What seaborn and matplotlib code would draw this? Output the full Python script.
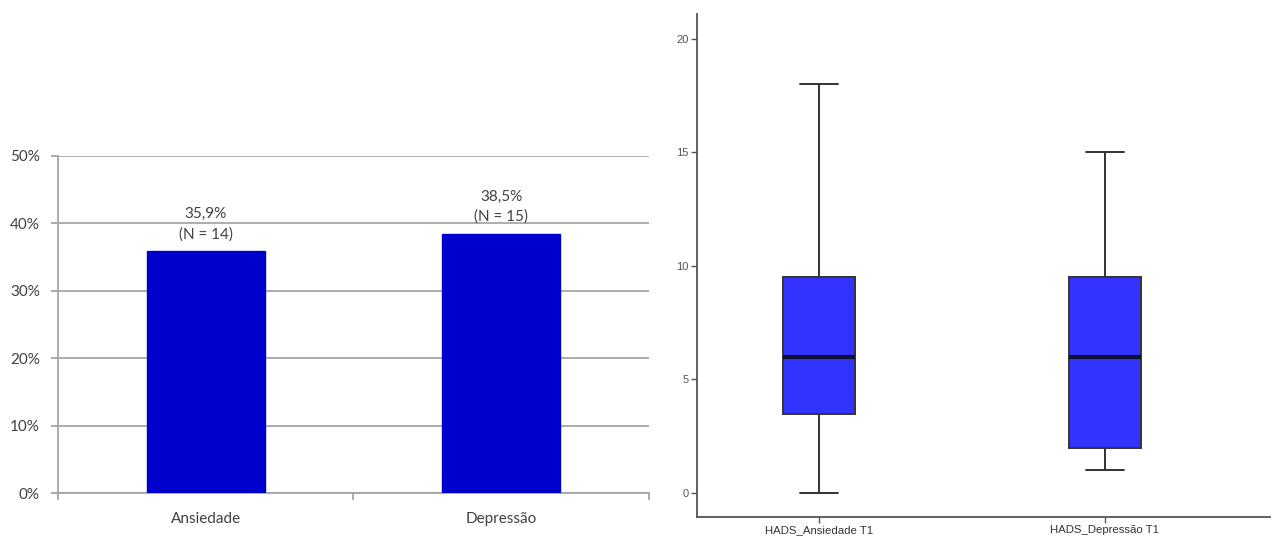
import numpy as np
import pandas as pd
import matplotlib
matplotlib.use("Agg")
import matplotlib.pyplot as plt
import seaborn as sns

# bar chart data (percent with clinical score)
categorias = ["Ansiedade", "Depressão"]
percentagens = [35.9, 38.5]
n_casos = [14, 15]
y_ticks_pct = [0, 10, 20, 30, 40, 50]

# boxplot data: five-number summaries
hads_labels = ["HADS_Ansiedade T1", "HADS_Depressão T1"]
hads_ansiedade = [0, 3.5, 6, 9.5, 18]
hads_depressao = [1, 2, 6, 9.5, 15]
y_ticks_hads = [0, 5, 10, 15, 20]

sns.set_style("white")
plt.rcParams["font.family"] = ["Lato", "DejaVu Sans"]

fig = plt.figure(figsize=(12.77, 5.39), dpi=100)

# left panel - bar chart
ax1 = fig.add_axes([0.0454, 0.0853, 0.4628, 0.6253])
df_bar = pd.DataFrame({"cat": categorias, "pct": percentagens})
sns.barplot(data=df_bar, x="cat", y="pct", color="#0000CC", width=0.4,
            saturation=1, ax=ax1, zorder=3)
for p in ax1.patches:
    p.set_edgecolor("#0000CC")
ax1.set_xlim(-0.5, 1.5)
ax1.set_ylim(0, 50)
ax1.set_yticks(y_ticks_pct)
ax1.set_yticklabels([f"{v}%" for v in y_ticks_pct], fontsize=11, color="#404040")
ax1.yaxis.grid(True, color="#A6A6A6", linewidth=1.3, zorder=0)
ax1.set_axisbelow(True)
ax1.tick_params(axis="y", length=5, width=1.3, color="#A6A6A6", pad=8, left=True)
ax1.set_xticks([0, 1])
ax1.set_xticklabels(categorias, fontsize=11, color="#404040")
ax1.tick_params(axis="x", length=0, pad=14)
ax1.set_xticks([-0.5, 0.5, 1.5], minor=True)
ax1.tick_params(axis="x", which="minor", length=5, width=1.3, color="#A6A6A6", bottom=True)
ax1.set_xlabel("")
ax1.set_ylabel("")
for s in ["top", "right"]:
    ax1.spines[s].set_visible(False)
for s in ["left", "bottom"]:
    ax1.spines[s].set_color("#A6A6A6")
    ax1.spines[s].set_linewidth(1.3)
for i, (v, n) in enumerate(zip(percentagens, n_casos)):
    txt = f"{v:.1f}%".replace(".", ",") + f"\n(N = {n})"
    ax1.text(i, v + 1.4, txt, ha="center", va="bottom", fontsize=11,
             color="#404040", linespacing=1.55)

# right panel - boxplot
ax2 = fig.add_axes([0.5458, 0.0408, 0.4487, 0.9332])
df_box = pd.DataFrame({
    "var": [hads_labels[0]] * len(hads_ansiedade) + [hads_labels[1]] * len(hads_depressao),
    "score": hads_ansiedade + hads_depressao,
})
sns.boxplot(data=df_box, x="var", y="score", color="#3333FF", saturation=1,
            width=0.25, whis=1.5, linecolor="#333333", linewidth=1.4,
            capwidths=0.13,
            medianprops={"color": "#111133", "linewidth": 3},
            ax=ax2)
ax2.set_xlim(-0.427, 1.577)
ax2.set_ylim(-1.06, 21.1)
ax2.set_yticks(y_ticks_hads)
ax2.set_yticklabels([str(v) for v in y_ticks_hads], fontsize=8, color="#555555",
                    family=["Liberation Sans", "DejaVu Sans"])
ax2.set_xticks([0, 1])
ax2.set_xticklabels(hads_labels, fontsize=8.2, color="#333333",
                    family=["Liberation Sans", "DejaVu Sans"])
ax2.tick_params(axis="both", length=4, width=1, color="#555555", pad=2,
                left=True, bottom=True)
ax2.set_xlabel("")
ax2.set_ylabel("")
for s in ["top", "right"]:
    ax2.spines[s].set_visible(False)
for s in ["left", "bottom"]:
    ax2.spines[s].set_color("#555555")
    ax2.spines[s].set_linewidth(1.3)

fig.savefig("out.png", dpi=100)
